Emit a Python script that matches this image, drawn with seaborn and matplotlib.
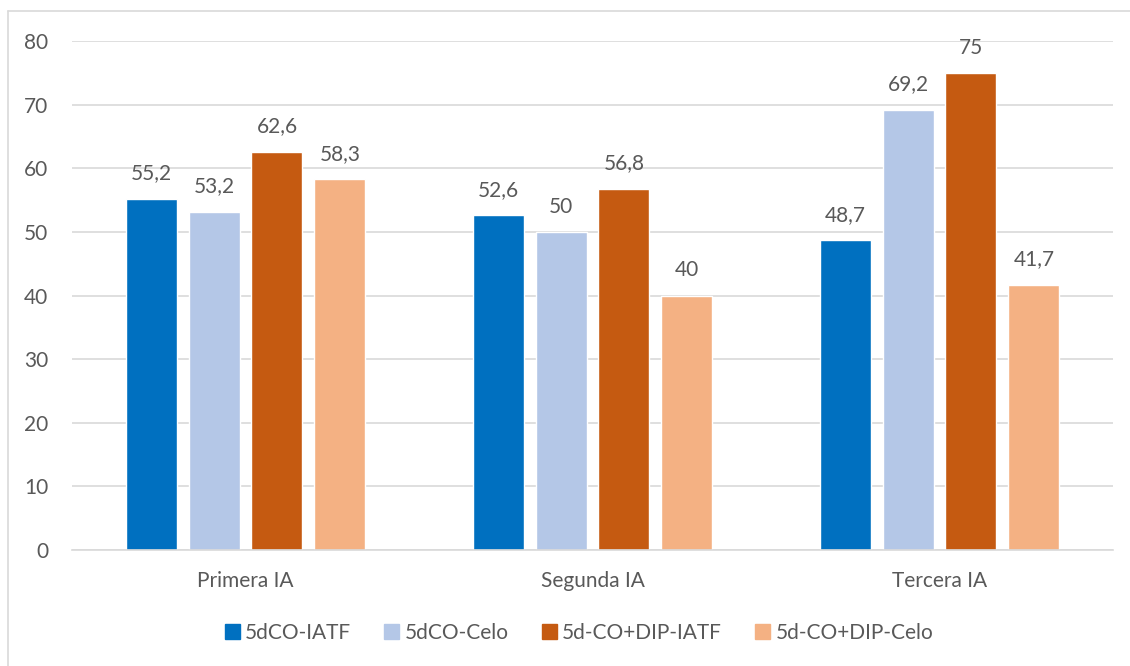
import matplotlib
matplotlib.use("Agg")
import matplotlib.pyplot as plt
import seaborn as sns
import pandas as pd
from matplotlib.lines import Line2D
from matplotlib.patches import Patch

categories = ["Primera IA", "Segunda IA", "Tercera IA"]
series = ["5dCO-IATF", "5dCO-Celo", "5d-CO+DIP-IATF", "5d-CO+DIP-Celo"]
v_5dco_iatf = [55.2, 52.6, 48.7]
v_5dco_celo = [53.2, 50, 69.2]
v_dip_iatf = [62.6, 56.8, 75]
v_dip_celo = [58.3, 40, 41.7]
y_ticks = [0, 10, 20, 30, 40, 50, 60, 70, 80]

colors = ["#0070C0", "#B4C7E7", "#C55A11", "#F4B183"]

rows = []
for s, vals in zip(series, [v_5dco_iatf, v_5dco_celo, v_dip_iatf, v_dip_celo]):
    for c, v in zip(categories, vals):
        rows.append({"cat": c, "serie": s, "val": v})
df = pd.DataFrame(rows)

sns.set_style("white")
plt.rcParams['font.family'] = ['Lato', 'DejaVu Sans']
text_color = "#595959"
fs = 15

fig = plt.figure(figsize=(11.3, 6.66), dpi=100)
ax = fig.add_axes([72/1130, 116/666, (1113-72)/1130, (550-41)/666])

sns.barplot(data=df, x="cat", y="val", hue="serie", order=categories,
            hue_order=series, palette=colors, width=0.726, gap=0.19,
            saturation=1, ax=ax, legend=False, errorbar=None)

for cont in ax.containers:
    labels = [f"{v:g}".replace(".", ",") for v in cont.datavalues]
    ax.bar_label(cont, labels=labels, padding=11, fontsize=fs, color=text_color)

ax.set_ylim(0, 80)
ax.set_yticks(y_ticks)
ax.yaxis.grid(True, color="#D9D9D9", linewidth=1.2)
ax.set_axisbelow(True)
for side in ["left", "right", "top"]:
    ax.spines[side].set_visible(False)
ax.spines["bottom"].set_color("#D9D9D9")
ax.spines["bottom"].set_linewidth(1.2)
ax.tick_params(axis="both", length=0, labelsize=fs, colors=text_color)
ax.tick_params(axis="y", pad=17)
ax.tick_params(axis="x", pad=15)
ax.set_xlabel("")
ax.set_ylabel("")
ax.set_xlim(-0.5, 2.5)

handles = [Patch(facecolor=c, edgecolor=c) for c in colors]
fig.legend(handles, series, loc="center", bbox_to_anchor=(579/1130, 1 - 633/666),
           ncol=4, frameon=False, fontsize=fs, labelcolor=text_color,
           handlelength=0.72, handleheight=0.72, handletextpad=0.25, columnspacing=1.6)

fig.add_artist(Line2D([8/1130, 1], [1 - 11/666, 1 - 11/666], color="#D9D9D9", lw=1.2))
fig.add_artist(Line2D([8/1130, 8/1130], [0, 1 - 11/666], color="#D9D9D9", lw=1.2))

fig.savefig("out.png", dpi=100)
